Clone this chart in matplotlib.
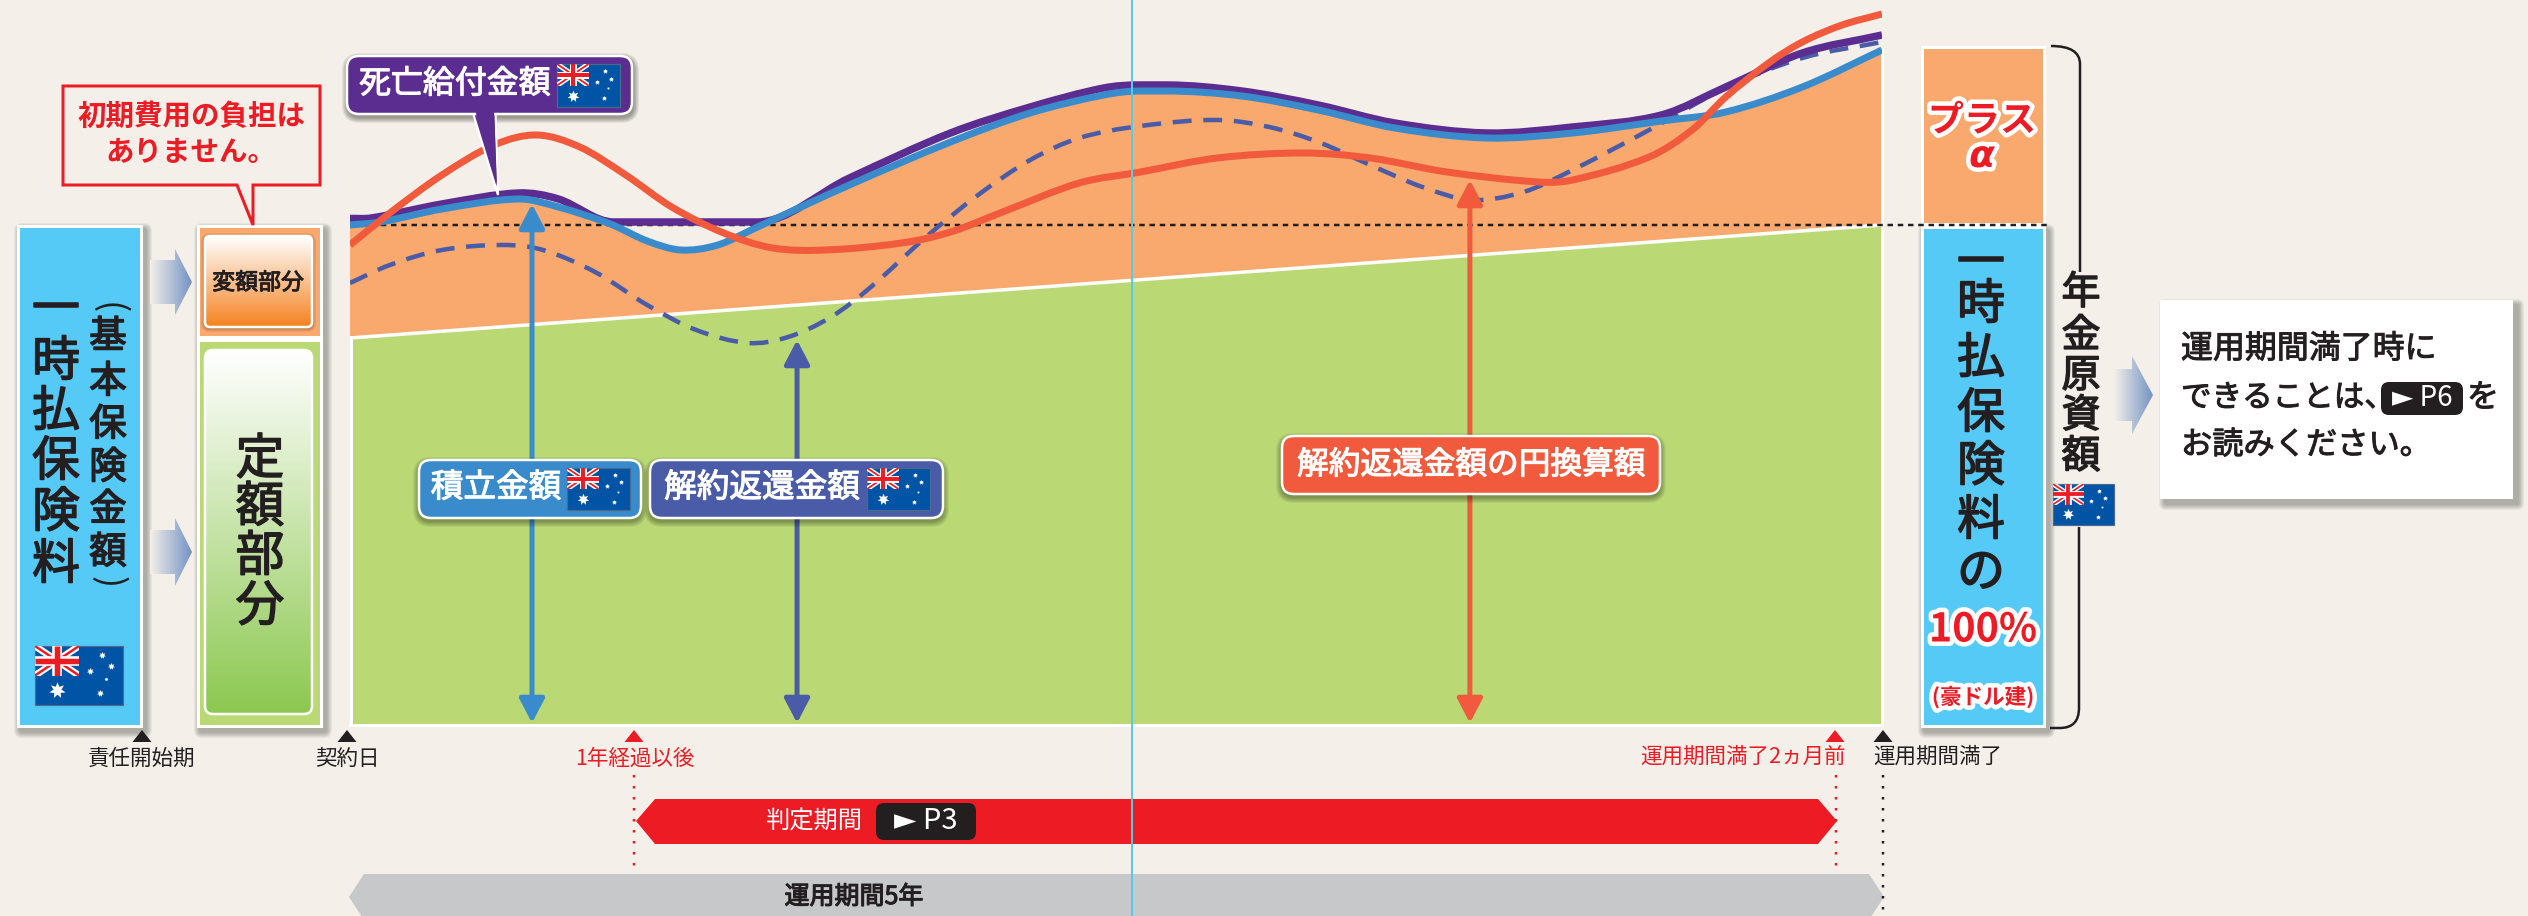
import numpy as np
import matplotlib
matplotlib.use('Agg')
import matplotlib.pyplot as plt
import matplotlib.patheffects as pe
from matplotlib.path import Path
from matplotlib.patches import PathPatch, Polygon, Rectangle, FancyBboxPatch, FancyArrowPatch

plt.rcParams['font.family'] = ['Noto Sans CJK JP', 'DejaVu Sans']

# chart values: x in years after contract, y in % of the single premium
death_x = [0, .07, .30, .55, .68, .86, 1.33, 1.63, 1.96, 2.22, 2.46, 2.58, 2.66, 2.91, 3.16, 3.41, 3.71, 3.99, 4.28, 4.49, 4.74, 5]
death_y = [101.3, 101.4, 104.2, 106.4, 105.2, 100.6, 100.6, 109.4, 118.4, 123.6, 127.4, 128, 128, 126.8, 124, 120.4, 118.4, 119.6, 122, 127.6, 134.4, 138]
accum_x = [0, .10, .30, .55, .68, .85, .97, 1.08, 1.20, 1.33, 1.63, 1.96, 2.22, 2.46, 2.58, 2.66, 2.91, 3.16, 3.41, 3.71, 3.99, 4.28, 4.49, 4.74, 5]
accum_y = [100, 100.6, 103.2, 105.2, 103.6, 100.2, 96.8, 95, 96, 99.6, 108, 116.6, 122.4, 126, 126.8, 126.8, 125.8, 123, 119.4, 117.4, 118.4, 120.8, 122.6, 127.6, 135]
yen_x = [0, .13, .30, .47, .61, .75, .90, 1.05, 1.22, 1.38, 1.55, 1.80, 1.96, 2.13, 2.38, 2.58, 2.83, 3.11, 3.33, 3.58, 3.88, 3.99, 4.24, 4.38, 4.49, 4.63, 4.74, 4.87, 5]
yen_y = [96, 102.4, 110, 116, 118, 115.6, 110, 103.6, 98.4, 95.4, 95, 96.4, 98.6, 102.6, 108.4, 110.6, 113.4, 114.4, 113.4, 110.6, 108.6, 109, 113.6, 119, 125.6, 132.4, 136.6, 140, 142.2]
surr_x = [0, .13, .30, .50, .63, .80, .97, 1.13, 1.30, 1.43, 1.57, 1.70, 1.88, 2.05, 2.22, 2.38, 2.58, 2.83, 3.0, 3.16, 3.33, 3.50, 3.66, 3.83, 3.99, 4.24, 4.49, 4.74, 5]
surr_y = [88.4, 92, 95, 96, 95, 90.6, 84, 79, 76.4, 77.6, 81.6, 87.6, 97.6, 106, 113, 117.4, 119.8, 121, 119.6, 116.6, 112, 107.6, 105, 106.6, 111, 119, 127.4, 133.4, 136.6]
fixed_x = [0, 5]
fixed_y = [77.4, 100]
arrow_x = [.594, 1.459, 3.655]
arrow_top = [104.2, 77, 109]

BG = '#f4f0e9'
ORANGE = '#f9a86e'
GREEN = '#bad975'
SKY = '#56caf7'
PURPLE = '#5c2d91'
BLUE = '#3a8bcb'
INDIGO = '#4a5ba8'
CORAL = '#f15a3c'
RED = '#ed1c24'
INK = '#231f20'


def px(n):
    return n * 0.72


def heavy(col, w=1.0):
    # the source uses a medium weight, regular plus a thin stroke gets close
    return [pe.withStroke(linewidth=w, foreground=col)]


def smooth_path(x, y):
    x = np.array(x, float)
    y = np.array(y, float)
    m = np.gradient(y, x)
    for i in range(1, len(x) - 1):
        m[i] = (y[i + 1] - y[i - 1]) / (x[i + 1] - x[i - 1])
        if y[i + 1] == y[i] or y[i] == y[i - 1]:
            m[i] = 0
    verts = [(x[0], y[0])]
    codes = [Path.MOVETO]
    for i in range(len(x) - 1):
        h = x[i + 1] - x[i]
        verts += [(x[i] + h / 3, y[i] + m[i] * h / 3), (x[i + 1] - h / 3, y[i + 1] - m[i + 1] * h / 3), (x[i + 1], y[i + 1])]
        codes += [Path.CURVE4] * 3
    return verts, codes


def shadow(a, x0, y0, x1, y1, r=2, dx=4, dy=5, z=1, alpha=.05, n=6):
    for i in range(n):
        g = n - i
        a.add_patch(FancyBboxPatch((x0 + dx - g, y0 + dy - g), x1 - x0 + 2 * g, y1 - y0 + 2 * g,
                                   boxstyle='round,pad=0,rounding_size=%f' % (r + g), fc='black', ec='none', alpha=alpha, zorder=z))


def box(a, x0, y0, x1, y1, fc, lw=3, z=2):
    a.add_patch(Rectangle((x0 + lw / 2, y0 + lw / 2), x1 - x0 - lw, y1 - y0 - lw, fc=fc, ec='white', lw=px(lw), zorder=z))


def gradient(a, x0, y0, x1, y1, c0, c1, clip, horizontal=False, z=3):
    c0 = np.array(matplotlib.colors.to_rgb(c0))
    c1 = np.array(matplotlib.colors.to_rgb(c1))
    t = np.linspace(0, 1, 128)[:, None]
    img = (c0 * (1 - t) + c1 * t)[:, None, :]
    if horizontal:
        img = img.transpose(1, 0, 2)
    im = a.imshow(img, extent=(x0, x1, y1, y0), aspect='auto', zorder=z, interpolation='bilinear')
    im.set_clip_path(clip)


def rounded(a, x0, y0, x1, y1, r, fc, ec='white', lw=2.5, z=4):
    p = FancyBboxPatch((x0, y0), x1 - x0, y1 - y0, boxstyle='round,pad=0,rounding_size=%f' % r,
                       fc=fc, ec=ec, lw=px(lw), zorder=z)
    a.add_patch(p)
    return p


def block_arrow(a, x0, xn, x1, yc, shaft, head):
    pts = [(x0, yc - shaft), (xn, yc - shaft), (xn, yc - head), (x1, yc), (xn, yc + head), (xn, yc + shaft), (x0, yc + shaft)]
    p = Polygon(pts, closed=True, fc='none', ec='none', zorder=3)
    a.add_patch(p)
    gradient(a, x0, yc - head, x1, yc + head, BG, '#7393c4', p, horizontal=True)


def flag(a, x, y, w, h, z=6):
    field = Rectangle((x, y), w, h, fc='#0054a6', ec='#4a6a8a', lw=px(1.2), zorder=z)
    a.add_patch(field)
    cw, ch = w / 2, h / 2
    canton = Rectangle((x, y), cw, ch, transform=a.transData)
    s = h / 43
    for p0, p1, col, lw in [((x, y), (x + cw, y + ch), 'white', 5), ((x, y + ch), (x + cw, y), 'white', 5),
                            ((x, y), (x + cw, y + ch), RED, 1.8), ((x, y + ch), (x + cw, y), RED, 1.8),
                            ((x + cw / 2, y), (x + cw / 2, y + ch), 'white', 7), ((x, y + ch / 2), (x + cw, y + ch / 2), 'white', 7),
                            ((x + cw / 2, y), (x + cw / 2, y + ch), RED, 4), ((x, y + ch / 2), (x + cw, y + ch / 2), RED, 4)]:
        ln, = a.plot([p0[0], p1[0]], [p0[1], p1[1]], color=col, lw=px(lw * s), zorder=z + 1, solid_capstyle='butt')
        ln.set_clip_path(canton)
    for fx, fy, size in [(.76, .16, 3.5), (.86, .34, 3.5), (.63, .42, 3.5), (.81, .56, 2), (.74, .80, 3.5), (.25, .74, 8)]:
        a.plot(x + fx * w, y + fy * h, marker=(7, 1, 0), ms=px(size * s * 1.5), color='white', mec='none', zorder=z + 1)


def vtext(a, x, ys, chars, size, color=INK, z=6):
    for yy, c in zip(ys, chars):
        a.text(x, yy, c, fontsize=size, color=color, ha='center', va='center', zorder=z, path_effects=heavy(color, 1.1))


def marker_up(a, x, color):
    a.add_patch(Polygon([(x - 9.5, 742), (x, 730), (x + 9.5, 742)], closed=True, fc=color, ec='none', zorder=5))


fig = plt.figure(figsize=(25.28, 9.16), dpi=100, facecolor=BG)
ax = fig.add_axes([0, 0, 1, 1], zorder=1)
chart = fig.add_axes([350 / 2528, (916 - 725) / 916, 1532 / 2528, 725 / 916], zorder=2)
top = fig.add_axes([0, 0, 1, 1], zorder=3)
for a in (ax, top):
    a.set_facecolor('none')
    a.axis('off')

# left columns
shadow(ax, 16, 224, 142, 727)
box(ax, 16, 224, 142, 727, SKY)
vtext(ax, 56, [310, 362, 412, 462, 513, 565], '一時払保険料', 34.5)
ax.text(108, 308, '(', rotation=-90, fontsize=26, color=INK, ha='center', va='center', zorder=6)
vtext(ax, 108, [337, 382, 425, 468, 510, 553], '基本保険金額', 27)
ax.text(108, 582, ')', rotation=-90, fontsize=26, color=INK, ha='center', va='center', zorder=6)
flag(ax, 35, 646, 88, 59)

shadow(ax, 196, 224, 322, 727)
box(ax, 196, 224, 322, 338, ORANGE)
box(ax, 196, 338, 322, 727, GREEN)
p = rounded(ax, 205, 236, 312, 327, 5, 'none', z=4)
shadow(ax, 205, 236, 312, 327, r=5, dx=0, dy=1, z=2.5, alpha=.06, n=4)
gradient(ax, 205, 236, 312, 327, '#ffffff', '#f58220', p)
ax.text(258, 283, '変額部分', fontsize=16.5, color=INK, ha='center', va='center', zorder=6, path_effects=heavy(INK, .7))
p = rounded(ax, 205, 350, 312, 714, 8, 'none', z=4)
gradient(ax, 205, 350, 312, 714, '#ffffff', '#8cc850', p)
vtext(ax, 260, [460, 508, 557, 607], '定額部分', 35)

block_arrow(ax, 150, 175, 192, 282, 22, 33)
block_arrow(ax, 150, 175, 192, 552, 22, 34)

# the chart itself
chart.set_xlim(0, 5)
chart.set_ylim(0, 145)
chart.axis('off')
chart.patch.set_alpha(0)

verts, codes = smooth_path(accum_x, accum_y)
chart.add_patch(PathPatch(Path(verts + [(fixed_x[1], fixed_y[1]), (fixed_x[0], fixed_y[0]), verts[0]],
                               codes + [Path.LINETO, Path.LINETO, Path.CLOSEPOLY]), fc=ORANGE, ec='none', zorder=1))
chart.fill_between(fixed_x, 0, fixed_y, color=GREEN, lw=0, zorder=1.5)
chart.plot(fixed_x, fixed_y, color='white', lw=px(3.5), zorder=2)
chart.plot([0, 0], [0, fixed_y[0]], color='white', lw=px(5), zorder=2, clip_on=True)
chart.plot([5, 5], [0, accum_y[-1]], color='white', lw=px(3), zorder=2, clip_on=False)
chart.plot([0, 5], [0, 0], color='white', lw=px(3), zorder=2, clip_on=False)
chart.plot([0, 5.54], [100, 100], color=INK, lw=px(2.5), ls=(0, (2.2, 1.9)), zorder=3, clip_on=False)

v, c = smooth_path(surr_x, surr_y)
chart.add_patch(PathPatch(Path(v, c), fc='none', ec=INDIGO, lw=px(4.5), ls=(0, (4.2, 2.6)), zorder=4, capstyle='butt'))
v, c = smooth_path(death_x, death_y)
chart.add_patch(PathPatch(Path(v, c), fc='none', ec=PURPLE, lw=px(7.5), zorder=5, joinstyle='round'))
v, c = smooth_path(accum_x, accum_y)
chart.add_patch(PathPatch(Path(v, c), fc='none', ec=BLUE, lw=px(7), zorder=6, joinstyle='round'))
v, c = smooth_path(yen_x, yen_y)
chart.add_patch(PathPatch(Path(v, c), fc='none', ec=CORAL, lw=px(7), zorder=7, joinstyle='round'))

for xa, ya, col in zip(arrow_x, arrow_top, [BLUE, INDIGO, CORAL]):
    chart.add_patch(FancyArrowPatch((xa, .4), (xa, ya), arrowstyle='<|-|>,head_length=1.05,head_width=.55', mutation_scale=14,
                                    color=col, lw=px(5), shrinkA=0, shrinkB=0, zorder=8, clip_on=False))

# labels that sit over the chart
shadow(top, 347, 56, 632, 114, r=12, dx=1, dy=3, z=1, alpha=.07)
top.add_patch(Polygon([(473, 113), (498, 195), (495.5, 113)], closed=True, fc=PURPLE, ec='white', lw=px(2.2), zorder=2))
rounded(top, 347, 56, 632, 114, 12, PURPLE, z=3)
top.add_patch(Polygon([(475, 110), (497, 185), (494, 110)], closed=True, fc=PURPLE, ec='none', zorder=4))
top.text(455, 84, '死亡給付金額', fontsize=23, color='white', ha='center', va='center', zorder=5, path_effects=heavy('white', .8))
flag(top, 557, 64, 63, 43)

for x0, x1, y0, y1, col, lab, tx in [(419, 641, 460, 518, BLUE, '積立金額', 496), (650, 943, 460, 518, INDIGO, '解約返還金額', 762)]:
    shadow(top, x0, y0, x1, y1, r=12, dx=0, dy=3, z=1, alpha=.06)
    rounded(top, x0, y0, x1, y1, 12, col, z=3)
    top.text(tx, 488, lab, fontsize=23.5, color='white', ha='center', va='center', zorder=5, path_effects=heavy('white', .8))
flag(top, 567, 468, 63, 42)
flag(top, 867, 468, 63, 42)
shadow(top, 1282, 436, 1660, 494, r=12, dx=0, dy=3, z=1, alpha=.06)
rounded(top, 1282, 436, 1660, 494, 12, CORAL, z=3)
top.text(1471, 465, '解約返還金額の円換算額', fontsize=22.8, color='white', ha='center', va='center', zorder=5, path_effects=heavy('white', .8))

# red speech box
top.add_patch(Polygon([(63, 86), (320, 86), (320, 185), (253, 185), (253, 225), (237, 185), (63, 185)], closed=True,
                      fc=BG, ec=RED, lw=px(3), zorder=3))
top.text(191, 117, '初期費用の負担は', fontsize=20.5, fontweight='bold', color=RED, ha='center', va='center', zorder=5)
top.text(191, 153, 'ありません。', fontsize=20.5, fontweight='bold', color=RED, ha='center', va='center', zorder=5)

top.plot([1132, 1132], [0, 916], color='#5bc8ea', lw=px(2), zorder=9)

# right column
shadow(ax, 1920, 225, 2045, 727)
box(ax, 1920, 45, 2045, 225, ORANGE)
box(ax, 1920, 225, 2045, 727, SKY)
stroke = [pe.withStroke(linewidth=px(9), foreground='white')]
top.text(1982, 121, 'プラス', fontsize=26, fontweight='bold', color=RED, ha='center', va='center', zorder=6, path_effects=stroke)
top.text(1982, 157, 'α', fontsize=27, fontweight='bold', style='italic', family='DejaVu Sans', color=RED, ha='center', va='center', zorder=6, path_effects=stroke)
vtext(top, 1981, [264, 305, 359, 414, 467, 521, 573], '一時払保険料の', 34.5)
top.text(1983, 630, '100%', fontsize=28.5, fontweight='bold', color=RED, ha='center', va='center', zorder=6, path_effects=stroke)
top.text(1983, 697, '(豪ドル建)', fontsize=15.5, fontweight='bold', color=RED, ha='center', va='center', zorder=6, path_effects=stroke)

b1 = [(2051, 46), (2080, 46), (2080, 64), (2080, 272)]
b2 = [(2079, 527), (2079, 708), (2079, 728), (2060, 728), (2050, 728)]
ax.add_patch(PathPatch(Path(b1, [Path.MOVETO, Path.CURVE3, Path.CURVE3, Path.LINETO]), fc='none', ec=INK, lw=px(2.5), zorder=3))
ax.add_patch(PathPatch(Path(b2, [Path.MOVETO, Path.LINETO, Path.CURVE3, Path.CURVE3, Path.LINETO]), fc='none', ec=INK, lw=px(2.5), zorder=3))
vtext(ax, 2081, [293, 336, 376, 416, 457], '年金原資額', 28)
flag(ax, 2053, 484, 61, 41)
block_arrow(ax, 2114, 2132, 2153, 395, 26, 39)

shadow(ax, 2160, 300, 2513, 499, dx=5, dy=5, r=1)
ax.add_patch(Rectangle((2160, 300), 353, 199, fc='white', ec='none', zorder=2))
ax.text(2181, 349, '運用期間満了時に', fontsize=23, color=INK, ha='left', va='center', zorder=6, path_effects=heavy(INK, .7))
ax.text(2181, 398, 'できることは、', fontsize=22, color=INK, ha='left', va='center', zorder=6, path_effects=heavy(INK, .7))
rounded(ax, 2381, 382, 2463, 415, 8, INK, ec='none', lw=0, z=4)
ax.text(2422, 398, '► P6', fontsize=20, color='white', ha='center', va='center', zorder=6)
ax.text(2483, 398, 'を', fontsize=23, color=INK, ha='center', va='center', zorder=6, path_effects=heavy(INK, .7))
ax.text(2181, 445, 'お読みください。', fontsize=22.5, color=INK, ha='left', va='center', zorder=6, path_effects=heavy(INK, .7))

# timeline under the chart
marker_up(ax, 142, INK)
marker_up(ax, 347, INK)
marker_up(ax, 634, RED)
marker_up(ax, 1835, RED)
marker_up(ax, 1883, INK)
ax.text(142, 759, '責任開始期', fontsize=15.5, color=INK, ha='center', va='center')
ax.text(347, 759, '契約日', fontsize=15.5, color=INK, ha='center', va='center')
ax.text(635, 759, '1年経過以後', fontsize=15.5, color=RED, ha='center', va='center')
ax.text(1846, 757, '運用期間満了2ヵ月前', fontsize=15.5, color=RED, ha='right', va='center')
ax.text(1873, 757, '運用期間満了', fontsize=15.5, color=INK, ha='left', va='center')

ax.plot([634, 634], [775, 868], color=RED, lw=px(2.5), ls=(0, (1, 3.4)))
ax.plot([1836, 1836], [775, 874], color=RED, lw=px(2.5), ls=(0, (1, 3.4)))
ax.plot([1883, 1883], [775, 916], color=INK, lw=px(2.5), ls=(0, (1, 3.4)), zorder=5)

ax.add_patch(Polygon([(636, 821), (655, 799), (1818, 799), (1837, 821), (1818, 844), (655, 844)], closed=True, fc=RED, ec='none', zorder=3))
ax.text(814, 822, '判定期間', fontsize=17.5, color='white', ha='center', va='center', zorder=6)
rounded(ax, 876, 803, 976, 840, 8, INK, ec='none', lw=0, z=4)
ax.text(926, 821, '► P3', fontsize=21, color='white', ha='center', va='center', zorder=6)
ax.add_patch(Polygon([(349, 897), (364, 874), (1869, 874), (1884, 897), (1869, 920), (364, 920)], closed=True, fc='#c6c8ca', ec='none', zorder=3))
ax.text(854, 897, '運用期間5年', fontsize=18, color=INK, ha='center', va='center', zorder=6, path_effects=heavy(INK, .8))

for a in (ax, top):
    a.set_xlim(0, 2528)
    a.set_ylim(916, 0)

fig.savefig('out.png', dpi=100, facecolor=BG)
